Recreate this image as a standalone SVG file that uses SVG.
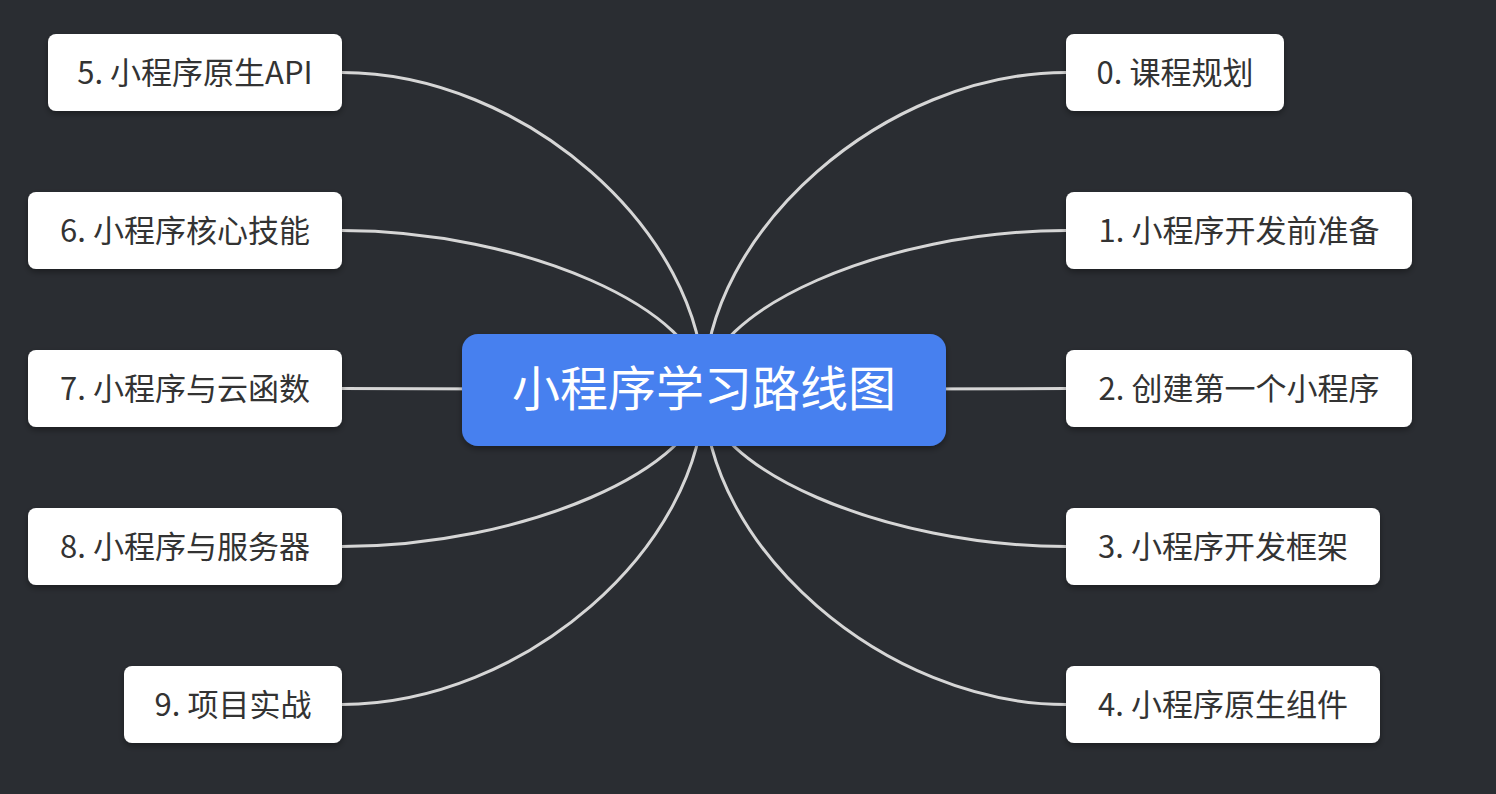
<svg xmlns="http://www.w3.org/2000/svg" width="1496" height="794" viewBox="0 0 1496 794">
<defs>
<filter id="sh" x="-10%" y="-20%" width="120%" height="150%">
<feDropShadow dx="0" dy="3" stdDeviation="3" flood-color="#000" flood-opacity="0.35"/>
</filter>
<style>
.bg{fill:#2a2d32}
.ln{fill:none;stroke:#d6d6d6;stroke-width:3;stroke-linecap:round}
.box{fill:#ffffff;filter:url(#sh)}
.lbl{font-family:"Noto Sans CJK SC","Noto Sans",sans-serif;font-size:31px;fill:#333333;text-anchor:middle}
.root{fill:#4780ef;filter:url(#sh)}
.rlbl{font-family:"Noto Sans CJK SC","Noto Sans",sans-serif;font-size:48px;fill:#ffffff;text-anchor:middle}
</style>
</defs>
<rect class="bg" x="0" y="0" width="1496" height="794"/>
<g id="connectors">
<path class="ln" d="M342 72.5 C523 72.5 704 231 704 390"/>
<path class="ln" d="M342 230.5 C523 230.5 704 310 704 390"/>
<path class="ln" d="M342 388.5 L704 389.5"/>
<path class="ln" d="M342 546.5 C523 546.5 704 468 704 390"/>
<path class="ln" d="M342 704.5 C523 704.5 704 547 704 390"/>
<path class="ln" d="M1066 72.5 C885 72.5 704 231 704 390"/>
<path class="ln" d="M1066 230.5 C885 230.5 704 310 704 390"/>
<path class="ln" d="M1066 388.5 L704 389.5"/>
<path class="ln" d="M1066 546.5 C885 546.5 704 468 704 390"/>
<path class="ln" d="M1066 704.5 C885 704.5 704 547 704 390"/>
</g>
<g id="root">
<rect class="root" x="462" y="334" width="484" height="112" rx="16"/>
<text class="rlbl" x="704" y="406">小程序学习路线图</text>
</g>
<g id="n0">
<rect class="box" x="1066" y="34" width="218" height="77" rx="8"/>
<text class="lbl" x="1175" y="84">0. 课程规划</text>
</g>
<g id="n1">
<rect class="box" x="1066" y="192" width="346" height="77" rx="8"/>
<text class="lbl" x="1239" y="242">1. 小程序开发前准备</text>
</g>
<g id="n2">
<rect class="box" x="1066" y="350" width="346" height="77" rx="8"/>
<text class="lbl" x="1239" y="400">2. 创建第一个小程序</text>
</g>
<g id="n3">
<rect class="box" x="1066" y="508" width="314" height="77" rx="8"/>
<text class="lbl" x="1223" y="558">3. 小程序开发框架</text>
</g>
<g id="n4">
<rect class="box" x="1066" y="666" width="314" height="77" rx="8"/>
<text class="lbl" x="1223" y="716">4. 小程序原生组件</text>
</g>
<g id="n5">
<rect class="box" x="48" y="34" width="294" height="77" rx="8"/>
<text class="lbl" x="195" y="84">5. 小程序原生API</text>
</g>
<g id="n6">
<rect class="box" x="28" y="192" width="314" height="77" rx="8"/>
<text class="lbl" x="185" y="242">6. 小程序核心技能</text>
</g>
<g id="n7">
<rect class="box" x="28" y="350" width="314" height="77" rx="8"/>
<text class="lbl" x="185" y="400">7. 小程序与云函数</text>
</g>
<g id="n8">
<rect class="box" x="28" y="508" width="314" height="77" rx="8"/>
<text class="lbl" x="185" y="558">8. 小程序与服务器</text>
</g>
<g id="n9">
<rect class="box" x="124" y="666" width="218" height="77" rx="8"/>
<text class="lbl" x="233" y="716">9. 项目实战</text>
</g>
</svg>
